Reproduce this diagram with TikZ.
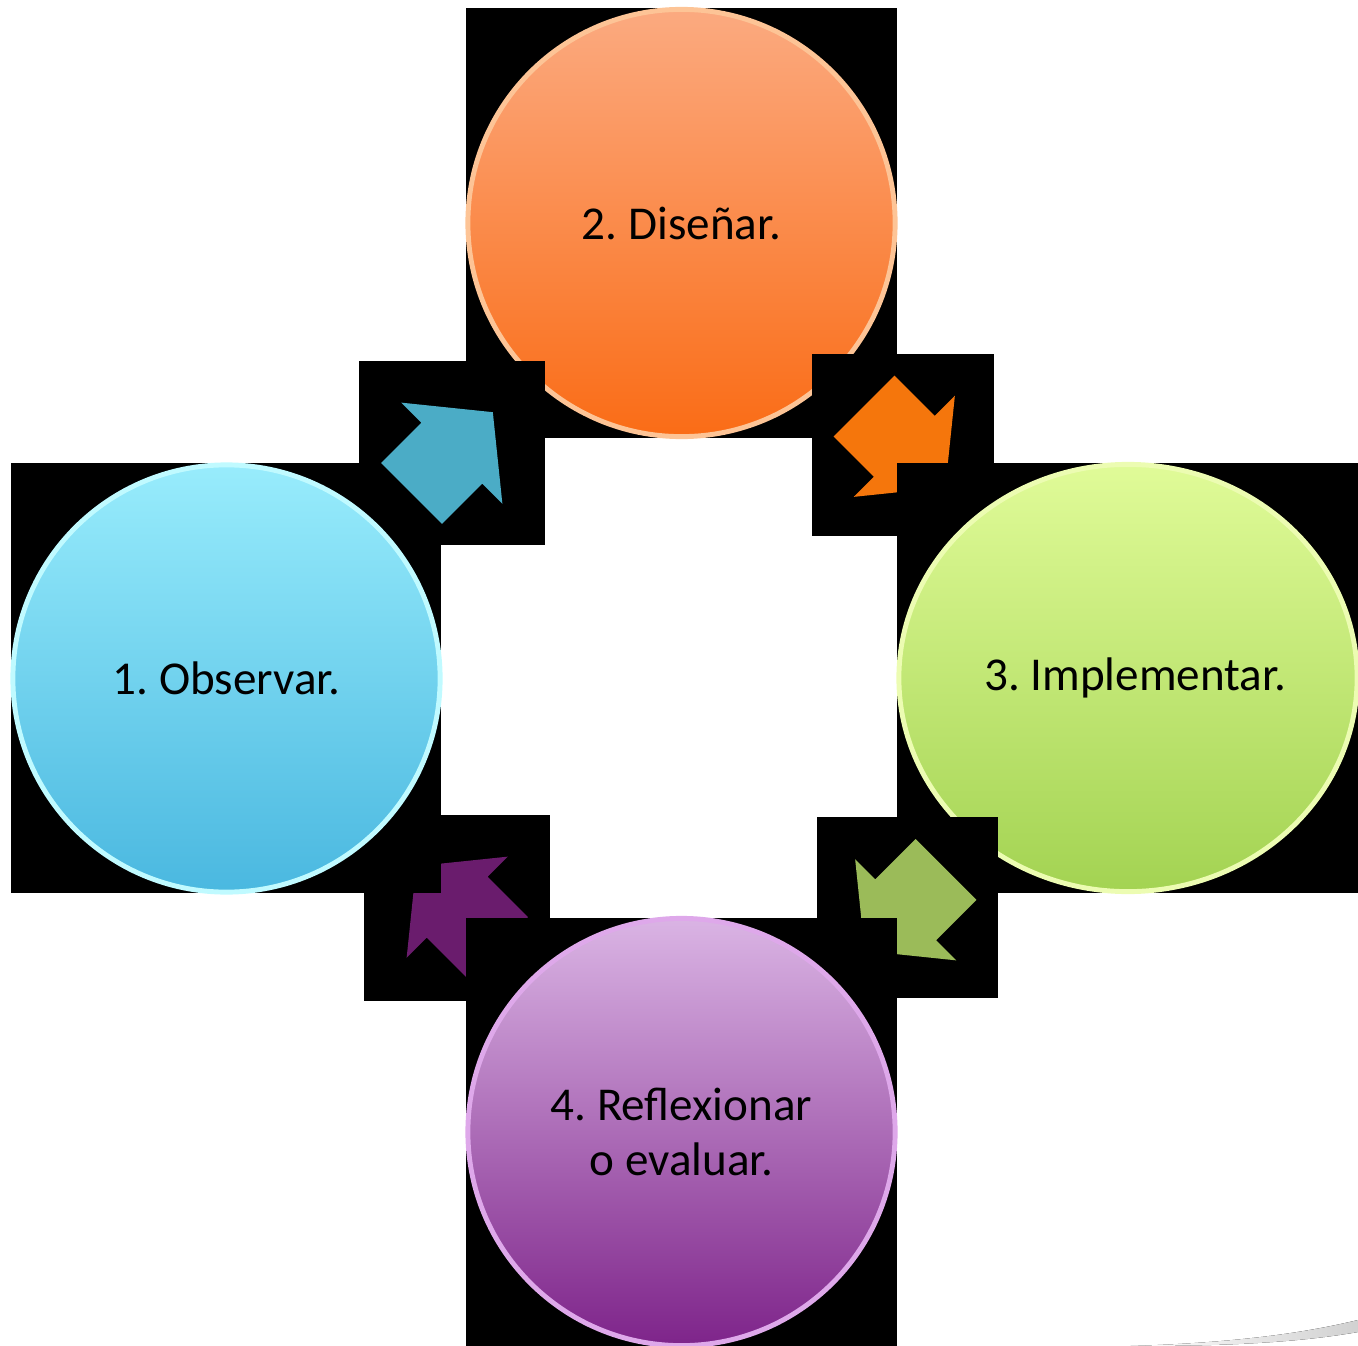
\documentclass[tikz,border=0pt]{standalone}
\usepackage{fontspec}
\setmainfont{Carlito}
\frenchspacing
\usetikzlibrary{shapes.geometric}
\definecolor{arrowblue}{RGB}{75,172,198}
\definecolor{arroworange}{RGB}{245,118,12}
\definecolor{arrowgreen}{RGB}{155,187,89}
\definecolor{arrowpurple}{RGB}{106,28,109}
\tikzset{
    % black boxes left behind each shape
    backbox/.style={fill=black},
    % block arrow between two phases
    blockarrow/.style={draw=none},
}
\newcommand{\bubblesize}{4.27cm}
% block arrow, tail centre at #2, turned by #3
\newcommand{\phasearrow}[3]{%
    \begin{scope}[shift={#2}, rotate=#3]
        \fill[blockarrow, #1] (0,-43) -- (57,-43) -- (57,-71.5) -- (115,0)
            -- (57,71.5) -- (57,43) -- (0,43) -- cycle;
    \end{scope}}

\begin{document}
\begin{tikzpicture}[x=0.01cm, y=-0.01cm]
\tikzstyle{bubble}=[circle, minimum size=\bubblesize, inner sep=0pt, line width=1.4pt,
                   align=center, font=\fontsize{13.4}{15.4}\selectfont]
\useasboundingbox (0,0) rectangle (1358,1346);

%%%%%%%%%%%%%%%%%%%%%%%%%%%%%%%%%
% Disenar
%%%%%%%%%%%%%%%%%%%%%%%%%%%%%%%%%
    \fill[backbox] (466,8) rectangle (897,438);
    \node[bubble, top color={rgb,255:red,251;green,170;blue,128},
          bottom color={rgb,255:red,250;green,108;blue,22},
          draw={rgb,255:red,253;green,196;blue,150}] (dis) at (681.5,223) {2. Diseñar.};

%%%%%%%%%%%%%%%%%%%%%%%%%%%%%%%%%
% arrow to the right
%%%%%%%%%%%%%%%%%%%%%%%%%%%%%%%%%
    \fill[backbox] (359,361) rectangle (545,545);
    \fill[backbox] (812,354) rectangle (994,536);
    \phasearrow{arroworange}{(864,406)}{-45}

%%%%%%%%%%%%%%%%%%%%%%%%%%%%%%%%%
% Implementar
%%%%%%%%%%%%%%%%%%%%%%%%%%%%%%%%%
    \fill[backbox] (897,463) rectangle (1358,893);
    \node[bubble, ellipse, minimum width=4.58cm, top color={rgb,255:red,224;green,251;blue,152},
          bottom color={rgb,255:red,163;green,211;blue,82},
          draw={rgb,255:red,236;green,252;blue,178}] (impl) at (1128,678) {\hspace{0.14cm}3. Implementar.};

%%%%%%%%%%%%%%%%%%%%%%%%%%%%%%%%%
% arrows back
%%%%%%%%%%%%%%%%%%%%%%%%%%%%%%%%%
    \fill[backbox] (817,817) rectangle (998,998);
    \phasearrow{arrowgreen}{(946,869.5)}{-135}
    \fill[backbox] (364,815) rectangle (550,1001);
    \phasearrow{arrowpurple}{(497.5,947.5)}{135}

%%%%%%%%%%%%%%%%%%%%%%%%%%%%%%%%%
% Reflexionar
%%%%%%%%%%%%%%%%%%%%%%%%%%%%%%%%%
    \fill[backbox] (466,918) rectangle (897,1346);
    \node[bubble, top color={rgb,255:red,218;green,180;blue,228},
          bottom color={rgb,255:red,126;green,36;blue,138},
          draw={rgb,255:red,222;green,168;blue,234}] (refl) at (681.5,1132) {4. Reflexionar\\o evaluar.};

%%%%%%%%%%%%%%%%%%%%%%%%%%%%%%%%%
% Observar
%%%%%%%%%%%%%%%%%%%%%%%%%%%%%%%%%
    \fill[backbox] (11,463) rectangle (441,893);
    \node[bubble, top color={rgb,255:red,152;green,236;blue,252},
          bottom color={rgb,255:red,74;green,184;blue,224},
          draw={rgb,255:red,192;green,250;blue,255}] (obs) at (226.5,678.5) {1. Observar.};

% arrow up to Disenar, on top of everything
    \phasearrow{arrowblue}{(411.5,493.5)}{45}

% shadow at the corner
\fill[left color=white, right color=black!18] (1130,1346) .. controls (1230,1343) and (1300,1334) .. (1358,1320)
    -- (1358,1332) .. controls (1290,1344) and (1210,1346) .. (1130,1346);

\end{tikzpicture}
\end{document}
